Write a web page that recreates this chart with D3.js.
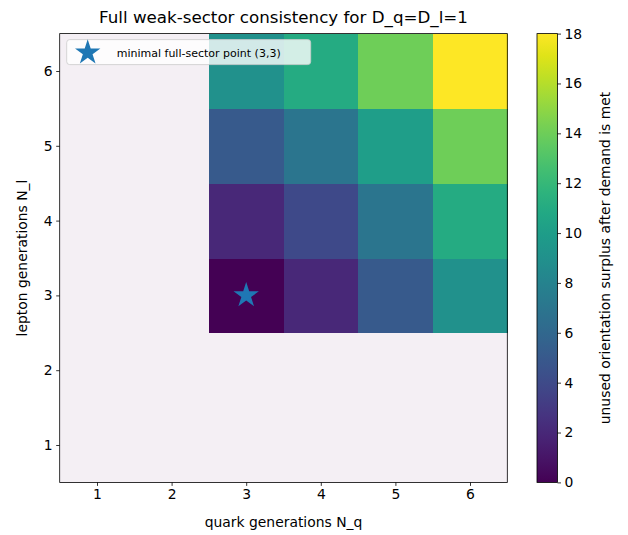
<!DOCTYPE html>
<html>
<head>
<meta charset="utf-8">
<script src="https://cdn.jsdelivr.net/npm/d3@7"></script>
<style>
  body { margin: 0; background: #fff; }
  svg { display: block; font-family: "DejaVu Sans", sans-serif; }
</style>
</head>
<body>
<div id="chart"></div>
<script>
// generation counts on each axis
const quarkGens  = [1, 2, 3, 4, 5, 6]
const leptonGens = [1, 2, 3, 4, 5, 6]

// surplus for N_q >= 3 and N_l >= 3, rows are N_l = 3..6, cols N_q = 3..6
const surplusRows = [3, 4, 5, 6]
const surplusCols = [3, 4, 5, 6]
const surplus = [
  [0, 2, 5, 9],
  [2, 4, 7, 11],
  [5, 7, 10, 14],
  [9, 11, 14, 18]
]
const cbarTicks = [0, 2, 4, 6, 8, 10, 12, 14, 16, 18]
const minimalPoint = { q: 3, l: 3 }

// build cell list: infeasible cells get the pale mask colour
const cells = []
leptonGens.forEach(l => {
  quarkGens.forEach(q => {
    const r = surplusRows.indexOf(l), c = surplusCols.indexOf(q)
    cells.push({ q, l, v: (r >= 0 && c >= 0) ? surplus[r][c] : null })
  })
})

const W = 628, H = 535
const margin = { top: 33.6, left: 59.7, right: 120.7, bottom: 52.6 }
const pw = W - margin.left - margin.right
const ph = H - margin.top - margin.bottom

const svg = d3.select("#chart").append("svg")
  .attr("width", W).attr("height", H)

const x = d3.scaleLinear().domain([0.5, 6.5]).range([margin.left, margin.left + pw])
const y = d3.scaleLinear().domain([0.5, 6.5]).range([margin.top + ph, margin.top])
const color = d3.scaleSequential(d3.interpolateViridis).domain([0, 18])

// heatmap cells
svg.append("g").attr("shape-rendering", "crispEdges").selectAll("rect")
  .data(cells).join("rect")
  .attr("x", d => x(d.q - 0.5))
  .attr("y", d => y(d.l + 0.5))
  .attr("width", d => x(d.q + 0.5) - x(d.q - 0.5) + 0.5)
  .attr("height", d => y(d.l - 0.5) - y(d.l + 0.5) + 0.5)
  .attr("fill", d => d.v === null ? "#f4eff4" : color(d.v))

// star for minimal point
const star = d3.symbol().type(d3.symbolStar).size(200)
svg.append("path")
  .attr("d", star())
  .attr("transform", `translate(${x(minimalPoint.q)},${y(minimalPoint.l)})`)
  .attr("fill", "#1f77b4")

// axes
const fmt = d3.format("d")
const xAxis = svg.append("g")
  .attr("transform", `translate(0,${margin.top + ph})`)
  .call(d3.axisBottom(x).tickValues(quarkGens).tickFormat(fmt).tickSize(3.5).tickPadding(3.5))
const yAxis = svg.append("g")
  .attr("transform", `translate(${margin.left},0)`)
  .call(d3.axisLeft(y).tickValues(leptonGens).tickFormat(fmt).tickSize(3.5).tickPadding(3.5))
;[xAxis, yAxis].forEach(a => {
  a.select(".domain").remove()
  a.selectAll("text").style("font-size", "13.9px").attr("fill", "#000").style("font-family", "DejaVu Sans")
  a.selectAll("line").attr("stroke", "#000").attr("stroke-width", 0.8)
})

// frame
svg.append("rect")
  .attr("x", margin.left).attr("y", margin.top)
  .attr("width", pw).attr("height", ph)
  .attr("fill", "none").attr("stroke", "#000").attr("stroke-width", 0.8)

// legend
const lg = svg.append("g").attr("transform", `translate(${margin.left + 7},${margin.top + 6})`)
lg.append("rect")
  .attr("width", 244).attr("height", 25).attr("rx", 3)
  .attr("fill", "#fff").attr("fill-opacity", 0.8)
  .attr("stroke", "#cccccc").attr("stroke-width", 0.8)
lg.append("path")
  .attr("d", d3.symbol().type(d3.symbolStar).size(200)())
  .attr("transform", "translate(21,13)")
  .attr("fill", "#1f77b4")
lg.append("text")
  .attr("x", 50).attr("y", 17)
  .style("font-size", "11px")
  .text("minimal full-sector point (3,3)")

// titles
svg.append("text")
  .attr("x", margin.left + pw / 2).attr("y", 23)
  .attr("text-anchor", "middle").style("font-size", "16.7px")
  .text("Full weak-sector consistency for D_q=D_l=1")
svg.append("text")
  .attr("x", margin.left + pw / 2).attr("y", 527)
  .attr("text-anchor", "middle").style("font-size", "13.9px")
  .text("quark generations N_q")
svg.append("text")
  .attr("transform", `translate(27,${margin.top + ph / 2}) rotate(-90)`)
  .attr("text-anchor", "middle").style("font-size", "13.9px")
  .text("lepton generations N_l")

// colorbar
const cbX = 537, cbW = 20.5
const cy = d3.scaleLinear().domain([0, 18]).range([margin.top + ph, margin.top])
const grad = svg.append("defs").append("linearGradient")
  .attr("id", "vir").attr("x1", 0).attr("y1", 1).attr("x2", 0).attr("y2", 0)
d3.range(0, 1.001, 0.05).forEach(t => {
  grad.append("stop").attr("offset", t).attr("stop-color", d3.interpolateViridis(t))
})
svg.append("rect")
  .attr("x", cbX).attr("y", margin.top).attr("width", cbW).attr("height", ph)
  .attr("fill", "url(#vir)")
  .attr("stroke", "#000").attr("stroke-width", 0.8)
const cAxis = svg.append("g")
  .attr("transform", `translate(${cbX + cbW},0)`)
  .call(d3.axisRight(cy).tickValues(cbarTicks).tickSize(3.5).tickPadding(3.5))
cAxis.select(".domain").remove()
cAxis.selectAll("text").style("font-size", "13.9px").attr("fill", "#000").style("font-family", "DejaVu Sans")
cAxis.selectAll("line").attr("stroke", "#000").attr("stroke-width", 0.8)
svg.append("text")
  .attr("transform", `translate(610,${margin.top + ph / 2}) rotate(-90)`)
  .attr("text-anchor", "middle").style("font-size", "13.9px")
  .text("unused orientation surplus after demand is met")
</script>
</body>
</html>
